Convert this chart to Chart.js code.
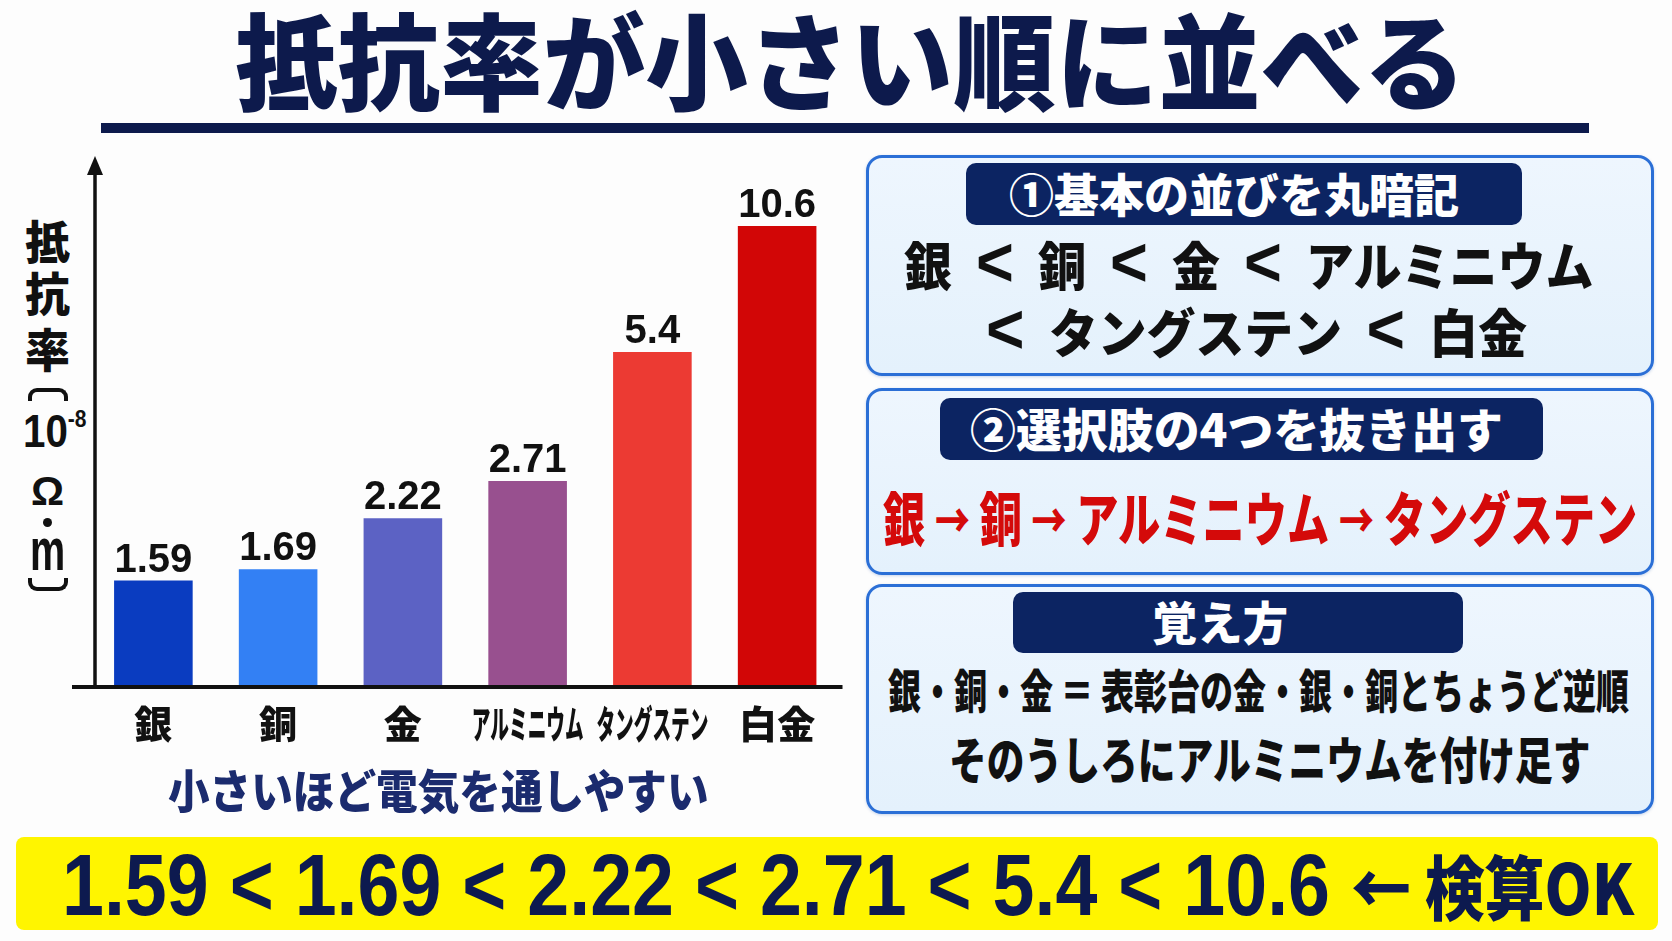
<!DOCTYPE html>
<html lang="ja">
<head>
<meta charset="utf-8">
<script src="https://cdn.jsdelivr.net/npm/chart.js@4.4.1/dist/chart.umd.min.js"></script>
<style>
  html,body{margin:0;padding:0;}
  body{width:1672px;height:941px;position:relative;overflow:hidden;background:#fdfdfd;
       font-family:'Noto Sans CJK JP','Noto Sans CJK SC',sans-serif;}
  .t{position:absolute;white-space:nowrap;line-height:1;transform-origin:0 50%;font-weight:900;}
  .lat{font-family:'Liberation Sans',Arial,sans-serif;font-weight:700;}
  .box{position:absolute;left:866px;width:782px;border:3px solid #2b6fd6;border-radius:16px;
       background:linear-gradient(180deg,#eef6fe 0%,#e4f1fc 100%);box-shadow:0 1px 3px rgba(40,90,180,0.25);}
  .pill{position:absolute;background:#0c2462;border-radius:10px;}
  #chartWrap{position:absolute;left:0;top:140px;width:860px;height:690px;}
  .brk{position:absolute;left:28px;width:32px;height:9px;border:4px solid #111;}
  .lt{font-family:'Liberation Sans',Arial,sans-serif;font-weight:700;font-size:1.35em;line-height:0;}
  .ar{font-family:'Noto Sans CJK JP',sans-serif;font-weight:900;font-size:48px;line-height:0;position:relative;top:-3px;}
</style>
</head>
<body>
<!-- title -->
<div class="t" data-l="235" data-w="1231" data-cy="62" data-fs="105" style="color:#0d1a4c">抵抗率が小さい順に並べる</div>
<div style="position:absolute;left:101px;top:123px;width:1488px;height:10px;background:#0d1a4c"></div>

<!-- y axis title -->
<div class="t" data-l="25" data-w="45" data-cy="242" data-fs="46" style="color:#111">抵</div>
<div class="t" data-l="25" data-w="45" data-cy="294" data-fs="46" style="color:#111">抗</div>
<div class="t" data-l="25" data-w="45" data-cy="350" data-fs="46" style="color:#111">率</div>
<div class="brk" style="top:388px;border-bottom:none;border-radius:9px 9px 0 0"></div>
<div class="t lat" data-l="23" data-w="64" data-cy="430" data-fs="46" data-k="0.4885" style="color:#111">10<span style="font-size:24px;position:relative;top:-20px">-8</span></div>
<div class="t lat" data-l="31" data-w="33" data-cy="491" data-fs="40" data-k="0.4885" style="color:#111">Ω</div>
<div style="position:absolute;left:43px;top:518px;width:9px;height:9px;border-radius:50%;background:#111"></div>
<div class="t lat" data-l="30" data-w="35" data-cy="555" data-fs="60" data-k="0.585" style="color:#111">m</div>
<div class="brk" style="top:578px;border-top:none;border-radius:0 0 9px 9px"></div>

<!-- chart -->
<div id="chartWrap"><canvas id="c"></canvas></div>

<!-- caption -->
<div class="t" data-l="168" data-w="541" data-cy="791" data-fs="46" style="color:#1b2b6e">小さいほど電気を通しやすい</div>

<!-- right panels -->
<div class="box" style="top:155px;height:215px"></div>
<div class="pill" style="left:966px;top:163px;width:556px;height:62px"></div>
<div class="t" data-l="1009" data-w="450" data-cy="195" data-fs="46" style="color:#fff">①基本の並びを丸暗記</div>
<div class="t" id="line1" data-l="904" data-w="690" data-cy="267" data-fs="52" style="color:#111"></div>
<div class="t" id="line2" data-l="986" data-w="541" data-cy="334" data-fs="52" style="color:#111"></div>

<div class="box" style="top:388px;height:181px"></div>
<div class="pill" style="left:940px;top:398px;width:603px;height:62px"></div>
<div class="t" data-l="970" data-w="533" data-cy="430" data-fs="46" style="color:#fff">②選択肢の4つを抜き出す</div>
<div class="t" id="redline" data-l="883" data-w="754" data-cy="519" data-fs="58" style="color:#d40a0a"></div>

<div class="box" style="top:584px;height:224px"></div>
<div class="pill" style="left:1013px;top:592px;width:450px;height:61px"></div>
<div class="t" data-l="1152" data-w="136" data-cy="623" data-fs="46" style="color:#fff">覚え方</div>
<div class="t" data-l="888" data-w="741" data-cy="691" data-fs="46" style="color:#111">銀・銅・金 ＝ 表彰台の金・銀・銅とちょうど逆順</div>
<div class="t" data-l="949" data-w="642" data-cy="760" data-fs="50" style="color:#111">そのうしろにアルミニウムを付け足す</div>

<!-- yellow check bar -->
<div style="position:absolute;left:16px;top:837px;width:1642px;height:93px;background:#fff500;border-radius:8px"></div>
<div class="t lat" id="check" data-l="62" data-w="1572" data-cy="884" data-fs="88" data-k="0.4885" style="color:#0d1a4f;font-weight:900"></div>

<script>
// ---- data ----
const categories = ['銀', '銅', '金', 'アルミニウム', 'タングステン', '白金'];
const resistivity = [1.59, 1.69, 2.22, 2.71, 5.4, 10.6];
const valueLabels = ['1.59', '1.69', '2.22', '2.71', '5.4', '10.6'];
const pickedIdx = [0, 1, 3, 4];
const checkSuffix = '← 検算OK';

// ---- styles ----
const barColors = ['#0a3cc0', '#3380f4', '#5c62c4', '#98508f', '#ec3a33', '#d20606'];

// ---- panel texts built from data ----
const SP = '\u2002';
const LT = SP + '<span class="lt">&lt;</span>' + SP;
document.getElementById('line1').innerHTML = categories.slice(0, 4).join(LT);
document.getElementById('line2').innerHTML = '<span class="lt">&lt;</span>' + SP + categories.slice(4).join(LT);
document.getElementById('redline').innerHTML = pickedIdx.map(i => categories[i])
  .join(' <span class="ar">→</span> ');
document.getElementById('check').innerHTML = valueLabels.join(' &lt; ') +
  ' <span style="font-family:\'Noto Sans CJK JP\',sans-serif;font-size:70px">' + checkSuffix + '</span>';

function fitAll() {
  document.querySelectorAll('.t').forEach(el => {
    const l = +el.dataset.l, w = +el.dataset.w, cy = +el.dataset.cy, fs = +el.dataset.fs;
    const k = el.dataset.k ? +el.dataset.k : 0.556;
    el.style.fontSize = fs + 'px';
    el.style.transform = 'none';
    el.style.left = l + 'px';
    el.style.top = (cy - k * fs) + 'px';
    const nat = el.scrollWidth;
    if (nat > 0) el.style.transform = 'scaleX(' + (w / nat) + ')';
  });
}
fitAll();
if (document.fonts && document.fonts.ready) document.fonts.ready.then(fitAll);

// ---- chart ----
const decor = {
  id: 'decor',
  afterDatasetsDraw(chart) {
    const {ctx, chartArea: a, scales: {x}} = chart;
    const meta = chart.getDatasetMeta(0);
    ctx.save();
    ctx.strokeStyle = '#111';
    ctx.fillStyle = '#111';
    // x axis
    ctx.lineWidth = 4;
    ctx.beginPath(); ctx.moveTo(a.left - 19, a.bottom); ctx.lineTo(a.right + 3, a.bottom); ctx.stroke();
    // y axis with arrow
    const ax = a.left + 4;
    ctx.lineWidth = 3.5;
    ctx.beginPath(); ctx.moveTo(ax, a.bottom); ctx.lineTo(ax, a.top + 8); ctx.stroke();
    ctx.beginPath(); ctx.moveTo(ax, a.top - 5); ctx.lineTo(ax - 8, a.top + 14); ctx.lineTo(ax + 8, a.top + 14); ctx.closePath(); ctx.fill();
    // value labels
    ctx.textAlign = 'center';
    ctx.textBaseline = 'alphabetic';
    ctx.font = 'bold 40px "Liberation Sans", Arial, sans-serif';
    meta.data.forEach((bar, i) => ctx.fillText(valueLabels[i], bar.x, bar.y - 9));
    // category labels
    ctx.textBaseline = 'middle';
    ctx.font = '900 38px "Noto Sans CJK JP", sans-serif';
    categories.forEach((c, i) => ctx.fillText(c, x.getPixelForValue(i), a.bottom + 37, 112));
    ctx.restore();
  }
};

new Chart(document.getElementById('c'), {
  type: 'bar',
  data: {
    labels: categories,
    datasets: [{
      data: resistivity,
      backgroundColor: barColors,
      borderWidth: 0,
      barPercentage: 0.63,
      categoryPercentage: 1
    }]
  },
  options: {
    responsive: true,
    maintainAspectRatio: false,
    animation: false,
    layout: {padding: {left: 91, right: 20.5, top: 21, bottom: 143}},
    plugins: {legend: {display: false}, tooltip: {enabled: false}},
    scales: {
      x: {display: false},
      y: {type: 'logarithmic', display: false, min: 0.9, max: 15, bounds: 'data'}
    }
  },
  plugins: [decor]
});
</script>
</body>
</html>
